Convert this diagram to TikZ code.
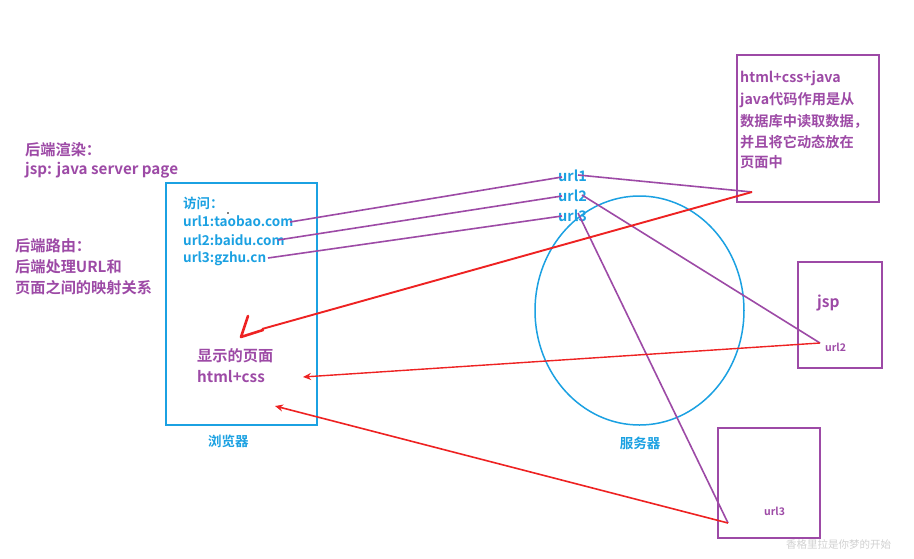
\documentclass[tikz,border=0pt]{standalone}
\usepackage{fontspec}
\setmainfont{Noto Sans CJK SC}[BoldFont={Noto Sans CJK SC Bold}]
\usetikzlibrary{shapes.geometric,arrows.meta}
\definecolor{vpurple}{RGB}{157,74,166}
\definecolor{vblue}{RGB}{27,161,226}
\definecolor{vred}{RGB}{238,34,34}
\begin{document}
\begin{tikzpicture}[x=1pt,y=-1pt,
  ptxt/.style={anchor=west, inner sep=0pt, text=vpurple, font=\bfseries\fontsize{14.2}{14}\selectfont},
  ltxt/.style={ptxt, font=\bfseries\fontsize{15.2}{15}\selectfont},
  btxt/.style={anchor=west, inner sep=0pt, text=vblue, font=\bfseries\fontsize{13.5}{13}\selectfont},
  stxt/.style={anchor=west, inner sep=0pt, text=vpurple, font=\bfseries\fontsize{10.5}{10}\selectfont},
  pbox/.style={draw=vpurple, line width=1.7pt, anchor=north west, inner sep=0pt},
  bbox/.style={draw=vblue, line width=1.7pt, anchor=north west, inner sep=0pt},
  pline/.style={draw=vpurple, line width=1.6pt},
  rline/.style={draw=vred, line width=1.5pt},
  tip/.style={-{Stealth[length=8pt,width=7pt]}}]
\useasboundingbox[fill=white] (0,0) rectangle (914,558);

% left texts
\node[ltxt] (r1) at (25,150) {后端渲染：};
\node[ltxt] (r2) at (25,170) {jsp: java server page};
\node[ltxt] (l1) at (15,246) {后端路由：};
\node[ltxt] (l2) at (15,267) {后端处理URL和};
\node[ltxt] (l3) at (15,288) {页面之间的映射关系};

% browser
\node[bbox, minimum width=151, minimum height=242] (browser) at (165,182) {};
\node[btxt] (v0) at (183,203) {访问：};
\node[btxt] (v1) at (183,221) {url1:taobao.com};
\node[btxt] (v2) at (183,240) {url2:baidu.com};
\node[btxt] (v3) at (183,259) {url3:gzhu.cn};
\fill (228,213) circle (0.8);
\node[ltxt] (p1) at (197,356) {显示的页面};
\node[ltxt] (p2) at (197,377) {html+css};
\node[btxt] (bl) at (208,441) {浏览器};

% server
\node[draw=vblue, line width=1.5pt, ellipse, minimum width=209, minimum height=229, inner sep=0pt] (server) at (639.5,310.5) {};
\node[btxt, anchor=center] (sl) at (640,443) {服务器};
\node[btxt, font=\bfseries\fontsize{14.5}{14}\selectfont] (u1) at (558,176) {url1};
\node[btxt, font=\bfseries\fontsize{14.5}{14}\selectfont] (u2) at (558,196) {url2};
\node[btxt, font=\bfseries\fontsize{14.5}{14}\selectfont] (u3) at (558,216) {url3};

% right boxes
\node[pbox, minimum width=142, minimum height=147] (top) at (736,54) {};
\node[ptxt] (t1) at (740,78) {html+css+java};
\node[ptxt] (t2) at (740,100) {java代码作用是从};
\node[ptxt] (t3) at (740,121) {数据库中读取数据，};
\node[ptxt] (t4) at (740,142) {并且将它动态放在};
\node[ptxt] (t5) at (740,162) {页面中};

\node[pbox, minimum width=84, minimum height=106] (jspbox) at (797,261) {};
\node[ptxt, font=\bfseries\fontsize{15.5}{15}\selectfont] (jsp) at (817,303) {jsp};
\node[stxt] (j2) at (825,347) {url2};

\node[pbox, minimum width=102, minimum height=110] (u3box) at (717,427) {};
\node[stxt] (j3) at (764,511) {url3};

\node[anchor=west, inner sep=0pt, text=black!18, font=\fontsize{10.5}{10}\selectfont] (wm) at (786,544) {香格里拉是你梦的开始};

% endpoints
\coordinate (a1) at (290,222);
\coordinate (a2) at (278,240);
\coordinate (a3) at (268,258);
\coordinate (b1) at (562,177);
\coordinate (b2) at (562,196);
\coordinate (b3) at (562,216);
\coordinate (c1) at (578,175);
\coordinate (c2) at (582,195);
\coordinate (c3) at (578,213);
\coordinate (d1) at (752,192);
\coordinate (d2) at (820,343);
\coordinate (d3) at (728,523);
\coordinate (e1) at (262,329);
\coordinate (e1tip) at (241,337);
\coordinate (e2) at (303,377);
\coordinate (e3) at (275,406);

% purple connectors
\draw[pline] (a1) -- (b1);
\draw[pline] (a2) -- (b2);
\draw[pline] (a3) -- (b3);
\draw[pline] (c1) -- (d1);
\draw[pline] (c2) -- (d2);
\draw[pline] (c3) -- (d3);

% red connectors
\draw[rline, line width=1.9pt] (d1) -- (e1);
\draw[rline, line width=2.6pt, line cap=round, line join=round] (248,316) -- (e1tip) -- (263,330);
\draw[rline, line width=1.4pt, tip] (d2) -- (e2);
\draw[rline, line width=1.6pt, tip] (d3) -- (e3);
\end{tikzpicture}
\end{document}
